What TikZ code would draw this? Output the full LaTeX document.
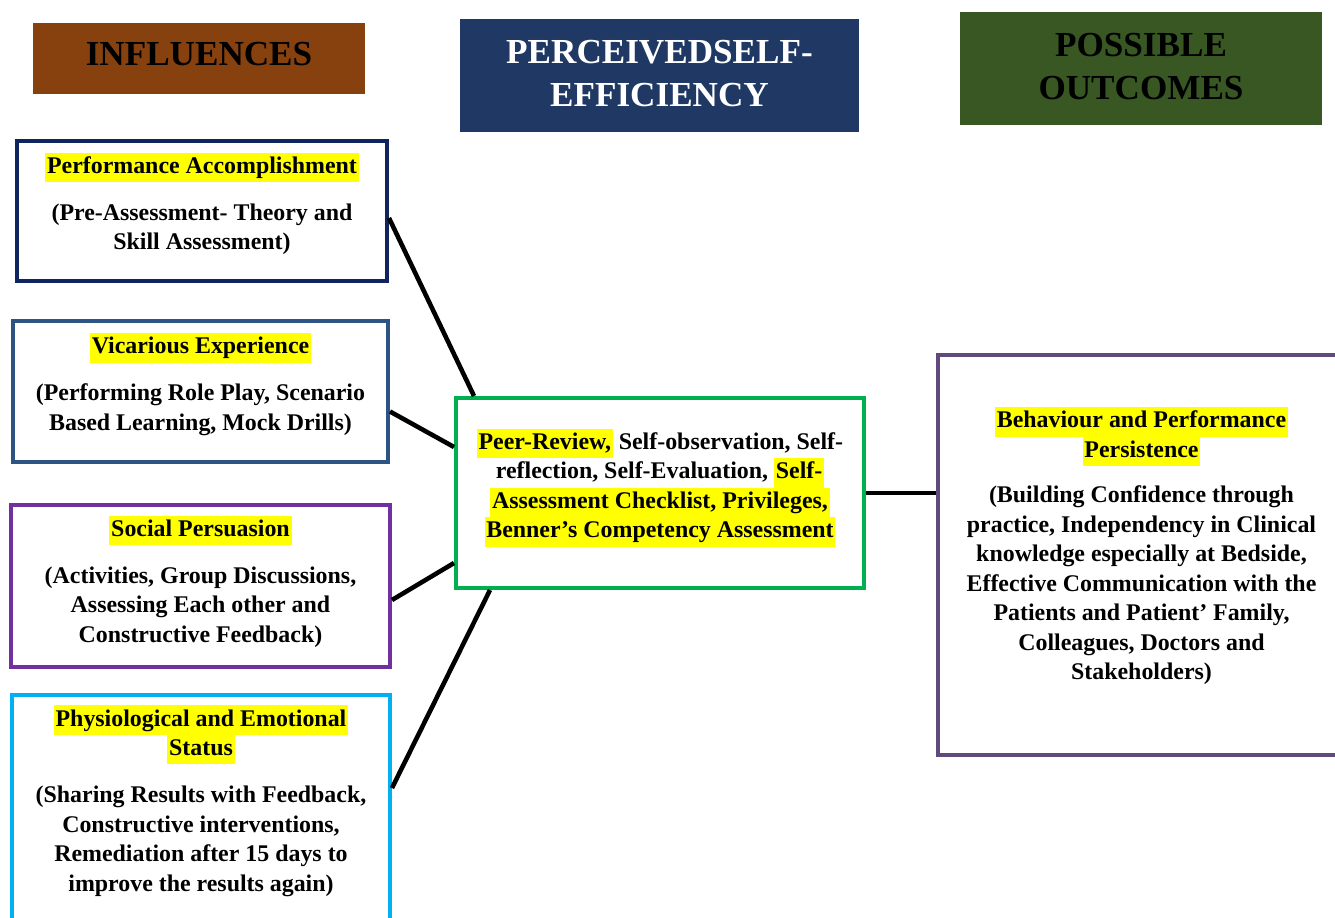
\documentclass[tikz,border=0pt]{standalone}
\usepackage{fontspec}
\setmainfont{Liberation Serif}

\definecolor{brownhd}{RGB}{135,65,15}
\definecolor{navyhd}{RGB}{31,56,100}
\definecolor{greenhd}{RGB}{56,87,35}
\definecolor{bordA}{RGB}{16,37,96}
\definecolor{bordB}{RGB}{46,84,134}
\definecolor{bordC}{RGB}{112,48,160}
\definecolor{bordD}{RGB}{0,176,240}
\definecolor{bordE}{RGB}{0,176,80}
\definecolor{bordF}{RGB}{96,74,123}
\definecolor{hlyellow}{RGB}{255,255,0}

% surlignage jaune
\newcommand{\hl}[1]{{\setlength{\fboxsep}{0pt}\colorbox{hlyellow}{\kern1pt\strut #1\kern1pt}}}

\begin{document}
\begin{tikzpicture}[x=0.02cm,y=-0.02cm,
  head/.style={font=\fontsize{20}{24.5}\selectfont\bfseries, align=center, inner sep=0pt},
  box/.style={font=\fontsize{13.6}{16.8}\selectfont\bfseries, align=center, draw, line width=2.3pt, inner sep=0pt, fill=white, text depth=11pt},
  link/.style={line width=2.6pt, black}]
\clip (0,0) rectangle (1335,917);
\fill[white] (0,0) rectangle (1335,917);

%les titres
\node[head, fill=brownhd, text depth=5.6pt, minimum width=6.64cm, minimum height=1.42cm] (infl) at (199,58.5) {INFLUENCES};
\node[head, fill=navyhd, text=white, text depth=2pt, minimum width=7.98cm, minimum height=2.26cm] (perc) at (659.5,75.5) {PERCEIVEDSELF-\\EFFICIENCY};
\node[head, fill=greenhd, text depth=2pt, minimum width=7.24cm, minimum height=2.26cm] (outc) at (1141,68.5) {POSSIBLE\\OUTCOMES};

%les influences
\node[box, draw=bordA, minimum width=7.4cm, minimum height=2.8cm] (perf) at (202,211)
  {\hl{Performance Accomplishment}\\[10pt] (Pre-Assessment- Theory and\\ Skill Assessment)};
\node[box, draw=bordB, minimum width=7.5cm, minimum height=2.82cm] (vica) at (200.5,391.5)
  {\hl{Vicarious Experience}\\[10pt] (Performing Role Play, Scenario\\ Based Learning, Mock Drills)};
\node[box, draw=bordC, minimum width=7.58cm, minimum height=3.24cm, text depth=8pt] (soci) at (200.5,586)
  {\hl{Social Persuasion}\\[10pt] (Activities, Group Discussions,\\ Assessing Each other and\\ Constructive Feedback)};
\node[box, draw=bordD, minimum width=7.56cm, minimum height=4.52cm] (phys) at (201,808)
  {\hl{Physiological and Emotional}\\ \hl{Status}\\[10pt] (Sharing Results with Feedback,\\ Constructive interventions,\\ Remediation after 15 days to\\ improve the results again)};

%le centre
\node[box, draw=bordE, minimum width=8.16cm, minimum height=3.8cm] (self) at (660,493)
  {\hl{Peer-Review,} Self-observation, Self-\\ reflection, Self-Evaluation, \hl{Self-}\\ \hl{Assessment Checklist, Privileges,}\\ \hl{Benner’s Competency Assessment}};

%le resultat
\node[box, draw=bordF, minimum width=8.14cm, minimum height=8cm, text depth=13pt] (behv) at (1141.5,555)
  {\hl{Behaviour and Performance}\\ \hl{Persistence}\\[9pt] (Building Confidence through\\ practice, Independency in Clinical\\ knowledge especially at Bedside,\\ Effective Communication with the\\ Patients and Patient’ Family,\\ Colleagues, Doctors and\\ Stakeholders)};

%les liens
\draw[link] ([yshift=-0.14cm]perf.east) -- ([xshift=0.4cm]self.north west);
\draw[link] ([yshift=-0.4cm]vica.east) -- ([yshift=0.92cm]self.west);
\draw[link] ([yshift=-0.28cm]soci.east) -- ([yshift=-1.4cm]self.west);
\draw[link] ([yshift=0.4cm]phys.east) -- ([xshift=0.72cm]self.south west);
\draw[link] (self.east) -- (self.east -| behv.west);

\end{tikzpicture}
\end{document}
